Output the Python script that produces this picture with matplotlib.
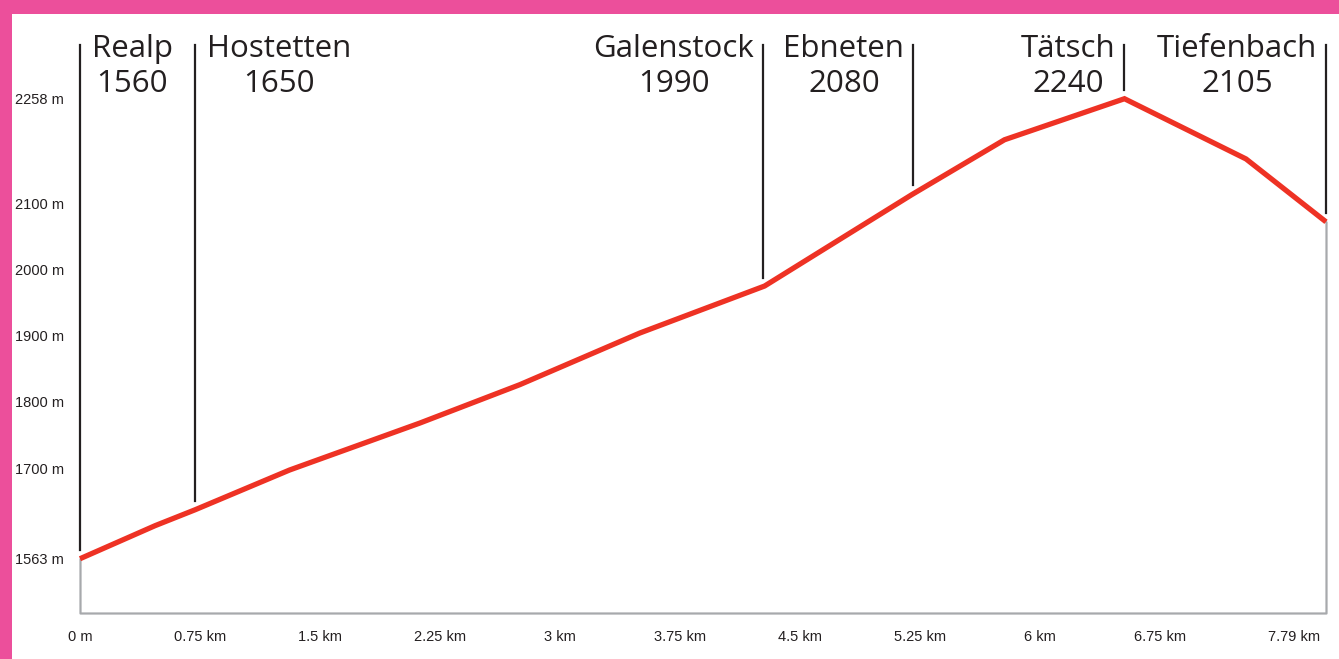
import numpy as np
import matplotlib
matplotlib.use("Agg")
import matplotlib.pyplot as plt
from matplotlib.patches import Rectangle
import matplotlib.transforms as mtransforms
from matplotlib import font_manager

# ---- data ----
dist_km = [0.0, 0.47, 0.72, 1.31, 2.125, 2.75, 3.5, 4.28, 5.0, 5.2, 5.78, 6.53, 7.29, 7.79]
elev_m = [1563, 1613, 1637, 1697, 1768, 1826, 1904, 1975, 2083, 2113, 2196, 2258, 2167, 2072]

place_names = ["Realp", "Hostetten", "Galenstock", "Ebneten", "Tätsch", "Tiefenbach"]
place_heights = ["1560", "1650", "1990", "2080", "2240", "2105"]
place_km = [0.0, 0.72, 4.27, 5.21, 6.53, 7.79]
place_side = ["right", "right", "left", "left", "left", "left"]

x_ticks = [0, 0.75, 1.5, 2.25, 3, 3.75, 4.5, 5.25, 6, 6.75, 7.79]
x_tick_labels = ["0 m", "0.75 km", "1.5 km", "2.25 km", "3 km", "3.75 km",
                 "4.5 km", "5.25 km", "6 km", "6.75 km", "7.79 km"]
y_ticks = [1563, 1700, 1800, 1900, 2000, 2100, 2258]
y_tick_labels = ["1563 m", "1700 m", "1800 m", "1900 m", "2000 m", "2100 m", "2258 m"]

# ---- style ----
W, H = 1339, 659
DPI = 100
pink = "#EC4F9B"
red = "#EE3224"
dark = "#231F20"
grey = "#A7A9AC"

available = {f.name for f in font_manager.fontManager.ttflist}
tick_font = [f for f in ["Liberation Sans Narrow", "DejaVu Sans Condensed", "Liberation Sans"]
             if f in available] + ["DejaVu Sans"]
narrow = tick_font[0] in ("Liberation Sans Narrow", "DejaVu Sans Condensed")
tick_size = 12 if narrow else 10.5
label_font = ["Open Sans", "DejaVu Sans"]

fig = plt.figure(figsize=(W / DPI, H / DPI), dpi=DPI)
fig.patch.set_facecolor("white")

ax_left, ax_right = 80, 1326
ax_top, ax_bot = 14, 613
ax = fig.add_axes([ax_left / W, 1 - ax_bot / H, (ax_right - ax_left) / W, (ax_bot - ax_top) / H])
ax.set_facecolor("none")

ymin, ymax = 1481, 2386
ax.set_xlim(0, 7.79)
ax.set_ylim(ymin, ymax)
for s in ax.spines.values():
    s.set_visible(False)

# area outline (grey bottom / sides)
ax.fill_between(dist_km, elev_m, ymin, facecolor="white", edgecolor=grey, linewidth=1.6,
                clip_on=False, zorder=1)
# elevation profile
ax.plot(dist_km, elev_m, color=red, linewidth=3.8, solid_joinstyle="miter",
        solid_capstyle="butt", clip_on=False, zorder=3)

# place markers
top_frac = (ax_bot - 45) / (ax_bot - ax_top)
y_top = ymin + top_frac * (ymax - ymin)
px_per_m = (ax_bot - ax_top) / (ymax - ymin)
gap = 9 / px_per_m
num_frac = (ax_bot - 92) / (ax_bot - ax_top)   # baseline of the height line
trans = mtransforms.blended_transform_factory(ax.transData, ax.transAxes)
for name, h, km, side in zip(place_names, place_heights, place_km, place_side):
    y_line = np.interp(km, dist_km, elev_m)
    ax.plot([km, km], [y_line + gap, y_top], color=dark, linewidth=1.6, clip_on=False, zorder=2)
    if side == "right":
        off = mtransforms.ScaledTranslation(12 / DPI, 0, fig.dpi_scale_trans)
        ha = "left"
    else:
        off = mtransforms.ScaledTranslation(-9 / DPI, 0, fig.dpi_scale_trans)
        ha = "right"
    ax.text(km, num_frac, f"{name}\n{h}", transform=trans + off, ha=ha, va="baseline",
            multialignment="center", fontsize=22.5, family=label_font, color=dark,
            linespacing=1.22, clip_on=False)

ax.set_xticks(x_ticks)
ax.set_xticklabels(x_tick_labels, family=tick_font, fontsize=tick_size, color=dark)
ax.set_yticks(y_ticks)
ax.set_yticklabels(y_tick_labels, family=tick_font, fontsize=tick_size, color=dark)
ax.tick_params(axis="both", length=0)
ax.tick_params(axis="x", pad=12)
ax.tick_params(axis="y", pad=11.5)
last = ax.get_xticklabels()[-1]
last.set_horizontalalignment("right")
last.set_transform(last.get_transform() +
                   mtransforms.ScaledTranslation(-6 / DPI, 0, fig.dpi_scale_trans))

# pink frame (top and left)
fig.patches.append(Rectangle((0, 1 - 14 / H), 1, 14 / H, transform=fig.transFigure,
                             facecolor=pink, edgecolor="none", zorder=10))
fig.patches.append(Rectangle((0, 0), 12 / W, 1, transform=fig.transFigure,
                             facecolor=pink, edgecolor="none", zorder=10))

fig.savefig("out.png", dpi=DPI)
